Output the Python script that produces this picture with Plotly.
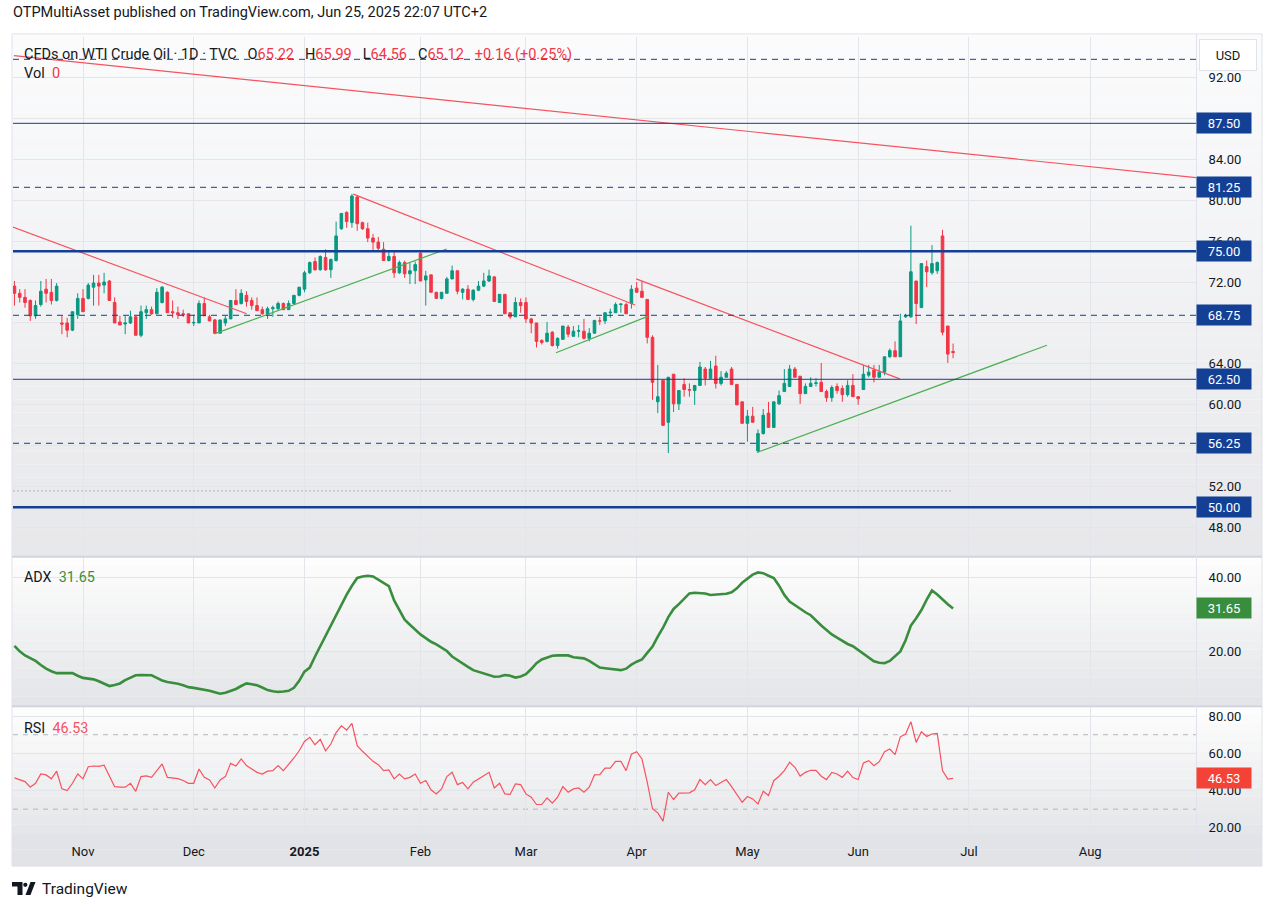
import plotly.graph_objects as go
import pandas as pd

W, H = 1274, 913

# ---------------- data ----------------
first_day = "2024-10-15"
holidays = ["2024-12-25", "2025-01-01", "2025-04-18", "2025-05-26"]

open_ = [71.6, 70.9, 70.5, 70.2, 68.7, 69.8, 71.3, 71.0, 70.2, 68.0,
         68.0, 67.3, 68.8, 70.4, 70.4, 71.5, 71.9, 71.7, 72.1, 70.0,
         68.1, 67.9, 68.0, 68.6, 66.8, 69.0, 69.3, 68.9, 70.0, 71.0,
         69.1, 69.0, 68.9, 68.9, 68.0, 68.0, 69.9, 68.6, 68.3, 67.0,
         68.0, 68.4, 70.2, 69.9, 70.7, 70.2, 69.7, 69.3, 68.9, 69.4,
         69.4, 69.9, 69.3, 69.9, 70.7, 71.3, 72.9, 74.0, 73.2, 74.4,
         73.2, 74.1, 77.2, 78.8, 77.8, 80.3, 77.8, 77.2, 76.3, 75.9,
         75.2, 74.1, 74.5, 72.9, 73.9, 72.8, 73.1, 74.8, 72.2, 72.7,
         71.0, 70.4, 70.9, 72.3, 73.1, 71.0, 71.3, 70.3, 71.2, 71.6,
         72.1, 72.5, 70.0, 70.8, 69.0, 68.6, 70.0, 70.0, 68.4, 68.0,
         66.3, 66.2, 67.1, 65.8, 66.4, 67.6, 66.7, 67.2, 67.2, 66.5,
         67.0, 68.2, 68.2, 69.0, 69.0, 69.8, 69.8, 69.9, 71.4, 71.1,
         70.3, 66.6, 60.3, 62.4, 58.3, 63.0, 60.1, 62.0, 61.5, 61.4,
         61.9, 63.5, 62.6, 63.8, 62.1, 62.7, 63.5, 62.0, 60.3, 58.2,
         58.9, 55.5, 57.2, 59.2, 57.8, 60.1, 61.3, 61.8, 63.5, 62.8,
         61.1, 61.8, 62.1, 62.2, 61.3, 60.7, 61.8, 61.6, 61.0, 61.9,
         60.8, 61.5, 62.9, 63.4, 62.7, 63.2, 64.7, 65.3, 64.7, 68.6,
         68.6, 72.1, 69.5, 73.5, 72.9, 73.1, 76.5, 67.7, 65.22]
high = [72.1, 71.3, 71.3, 70.3, 70.2, 72.1, 72.3, 72.3, 71.9, 68.7,
        68.5, 69.1, 70.9, 71.3, 71.9, 72.7, 72.7, 72.9, 72.2, 70.5,
        68.7, 68.7, 69.2, 68.7, 69.7, 69.7, 69.6, 71.4, 71.6, 71.1,
        70.2, 69.6, 69.3, 68.9, 68.8, 70.2, 70.5, 68.8, 68.4, 68.3,
        68.7, 70.2, 71.3, 71.3, 71.1, 70.5, 70.5, 69.6, 69.6, 69.7,
        70.1, 70.0, 70.2, 70.7, 71.5, 73.1, 74.0, 74.4, 74.6, 75.2,
        74.3, 77.9, 78.7, 78.9, 80.6, 80.5, 77.9, 77.8, 76.7, 76.4,
        75.9, 75.0, 75.0, 74.1, 74.1, 73.9, 74.0, 75.1, 73.1, 72.7,
        71.0, 71.0, 72.5, 73.6, 73.1, 71.4, 71.7, 71.3, 72.1, 72.9,
        73.2, 72.6, 70.8, 70.8, 69.0, 70.5, 70.4, 70.5, 68.5, 68.0,
        66.4, 68.1, 67.2, 66.6, 67.7, 67.8, 67.7, 67.8, 68.4, 67.5,
        68.3, 68.6, 69.0, 69.4, 70.0, 69.9, 70.0, 71.7, 72.0, 72.1,
        70.3, 66.8, 63.9, 62.4, 62.7, 63.0, 61.4, 62.6, 62.1, 61.9,
        64.2, 63.7, 64.3, 64.8, 63.3, 63.3, 63.7, 62.0, 60.3, 59.5,
        59.8, 57.6, 59.6, 60.3, 60.3, 61.4, 63.5, 63.9, 63.7, 62.8,
        62.1, 62.7, 62.6, 64.1, 61.5, 61.9, 62.1, 61.9, 62.4, 63.0,
        60.8, 63.9, 63.9, 63.9, 63.9, 64.7, 65.5, 66.2, 68.9, 68.9,
        77.5, 72.1, 73.8, 74.1, 75.6, 74.0, 77.1, 67.7, 65.99]
low = [69.7, 70.0, 69.5, 68.2, 68.4, 69.6, 70.0, 69.8, 70.1, 66.9,
       66.6, 67.2, 68.4, 69.1, 70.3, 69.7, 69.7, 70.9, 70.2, 68.0,
       67.8, 66.9, 67.9, 66.8, 66.6, 68.4, 68.8, 68.9, 69.9, 69.0,
       68.5, 68.4, 68.6, 68.0, 67.7, 68.0, 68.7, 68.2, 66.9, 67.0,
       67.7, 68.4, 69.8, 69.8, 69.6, 69.3, 69.2, 68.8, 68.4, 68.6,
       69.2, 69.3, 69.3, 69.8, 70.6, 71.0, 72.8, 73.1, 73.1, 73.1,
       72.4, 74.0, 77.1, 77.3, 77.3, 77.0, 77.1, 75.9, 75.1, 75.1,
       74.1, 74.0, 72.4, 72.8, 72.4, 71.8, 71.8, 72.1, 69.7, 71.0,
       70.4, 70.3, 70.9, 72.3, 70.8, 70.3, 70.3, 70.1, 71.1, 71.5,
       72.0, 70.1, 70.0, 68.9, 68.4, 68.6, 69.0, 68.0, 67.0, 65.6,
       65.9, 66.1, 65.7, 65.5, 66.4, 66.6, 66.7, 66.6, 66.4, 66.2,
       67.0, 67.8, 67.9, 68.5, 69.0, 69.0, 68.9, 69.4, 71.0, 70.5,
       66.0, 60.5, 59.2, 58.0, 55.3, 59.3, 59.5, 60.8, 60.8, 60.0,
       61.9, 61.9, 62.6, 61.6, 61.9, 62.7, 62.0, 60.0, 58.2, 56.4,
       58.3, 55.3, 57.1, 57.8, 57.8, 60.0, 61.3, 61.8, 62.7, 60.1,
       61.1, 61.8, 61.8, 61.3, 60.3, 60.3, 61.1, 60.3, 60.8, 60.8,
       60.0, 61.5, 62.7, 62.2, 62.7, 62.9, 64.6, 64.7, 64.7, 68.5,
       68.5, 67.9, 69.5, 71.5, 72.7, 72.8, 66.8, 64.1, 64.56]
close = [70.9, 70.5, 70.0, 68.7, 69.7, 71.1, 70.9, 70.2, 71.6, 67.9,
         67.3, 69.1, 70.4, 69.1, 71.7, 71.9, 71.6, 72.0, 70.2, 68.0,
         67.8, 68.0, 68.6, 66.8, 69.1, 69.3, 68.9, 71.0, 71.5, 69.0,
         69.0, 68.8, 68.8, 68.0, 68.05, 69.9, 68.7, 68.2, 67.0, 68.3,
         68.4, 70.2, 69.8, 70.9, 70.1, 69.7, 69.2, 68.9, 69.4, 69.5,
         69.9, 69.3, 69.9, 70.7, 71.5, 72.9, 73.9, 73.2, 74.5, 73.2,
         74.2, 76.5, 78.7, 77.9, 80.4, 77.7, 77.2, 76.3, 75.9, 75.3,
         74.1, 74.5, 72.9, 73.9, 72.8, 73.1, 73.7, 72.1, 72.6, 71.0,
         70.4, 71.0, 72.3, 73.1, 71.1, 71.3, 70.3, 71.2, 71.6, 72.1,
         72.6, 70.1, 70.8, 68.9, 68.6, 70.0, 69.7, 68.4, 68.0, 66.2,
         66.1, 67.0, 65.8, 66.5, 67.7, 66.9, 67.2, 67.25, 66.5, 67.0,
         68.25, 68.2, 69.0, 69.05, 69.8, 69.85, 68.9, 71.3, 71.0, 70.5,
         66.6, 62.2, 60.8, 58.0, 62.7, 60.1, 61.4, 61.5, 61.45, 61.9,
         63.7, 62.6, 63.5, 62.1, 62.7, 63.1, 62.0, 60.0, 58.2, 58.9,
         58.3, 57.2, 59.0, 57.8, 60.3, 60.9, 62.1, 63.5, 62.7, 61.1,
         61.8, 62.1, 62.15, 61.3, 60.7, 61.7, 61.4, 61.0, 61.9, 60.8,
         60.6, 63.0, 63.2, 62.7, 63.2, 64.7, 65.3, 64.7, 68.2, 68.7,
         73.0, 69.9, 73.8, 73.0, 73.8, 73.9, 67.1, 64.96, 65.12]

adx = [21.5, 20.0, 18.9, 18.2, 17.4, 16.3, 15.3, 14.6, 14.1, 14.1,
       14.2, 14.1, 13.4, 12.8, 12.6, 12.4, 11.9, 11.2, 10.6, 10.9,
       11.3, 12.2, 12.9, 13.5, 13.6, 13.6, 13.5, 12.8, 12.1, 11.7,
       11.5, 11.2, 10.8, 10.3, 10.1, 9.9, 9.7, 9.3, 8.9, 8.5,
       8.8, 9.3, 9.8, 10.6, 11.3, 11.1, 10.8, 10.2, 9.5, 9.2,
       9.0, 9.1, 9.3, 10.1, 12.0, 14.5, 15.6, 18.6, 21.4, 24.0,
       27.0, 29.5, 32.7, 35.4, 37.8, 39.9, 40.3, 40.5, 40.3, 39.5,
       38.5, 37.7, 33.8, 31.3, 28.6, 27.2, 25.8, 24.6, 23.6, 22.6,
       21.9, 21.0, 20.1, 18.6, 17.6, 16.7, 15.8, 14.9, 14.4, 14.05,
       13.6, 13.1, 13.2, 13.6, 13.4, 12.9, 13.2, 13.8, 15.2, 16.8,
       17.8, 18.4, 18.8, 18.9, 18.9, 18.9, 18.4, 18.3, 18.1, 17.4,
       16.5, 15.6, 15.4, 15.2, 15.0, 14.9, 15.3, 16.4, 17.2, 17.8,
       19.6, 21.3, 24.0, 26.4, 29.3, 31.5, 32.8, 34.4, 35.7, 35.9,
       35.9, 35.7, 35.3, 35.4, 35.5, 35.6, 36.0, 37.1, 38.6, 39.6,
       40.8, 41.4, 41.2, 40.5, 39.9, 37.8, 35.3, 33.5, 32.5, 31.7,
       30.6, 29.8, 28.3, 27.0, 25.8, 24.6, 23.7, 22.8, 22.0, 21.4,
       20.4, 19.4, 18.4, 17.3, 16.9, 16.8, 17.4, 18.6, 20.0, 23.0,
       27.0, 29.0, 31.2, 34.0, 36.5, 35.4, 34.0, 32.8, 31.65]

rsi = [46.8, 45.7, 44.8, 41.8, 43.9, 48.9, 48.4, 46.3, 50.4, 40.9,
       40.0, 43.9, 48.9, 46.3, 52.8, 53.2, 53.0, 53.6, 48.0, 42.1,
       41.8, 41.8, 43.9, 39.6, 47.5, 47.9, 47.1, 50.7, 54.3, 47.1,
       46.8, 46.4, 45.4, 43.9, 43.9, 51.6, 47.1, 45.7, 41.4, 45.7,
       47.5, 54.6, 53.2, 57.0, 53.4, 51.8, 49.8, 48.9, 50.4, 50.7,
       53.4, 50.7, 53.9, 57.5, 61.4, 66.4, 68.6, 64.6, 67.5, 61.4,
       65.0, 71.2, 74.8, 72.5, 76.1, 64.1, 61.1, 58.2, 55.7, 53.9,
       50.7, 51.1, 46.3, 48.9, 46.3, 47.1, 48.9, 43.9, 45.4, 40.4,
       38.2, 40.9, 47.5, 49.8, 43.2, 44.3, 40.9, 44.5, 46.1, 48.0,
       49.8, 41.4, 43.9, 38.2, 37.9, 43.6, 43.2, 38.2, 36.4, 32.5,
       32.5, 36.1, 33.2, 36.4, 42.1, 39.1, 40.9, 41.4, 39.1, 41.8,
       48.4, 48.6, 52.1, 52.1, 55.7, 55.7, 50.7, 59.5, 60.9, 57.0,
       44.5, 30.2, 28.0, 23.6, 39.1, 35.2, 38.6, 38.8, 38.8, 40.4,
       45.9, 43.2, 45.9, 42.7, 44.5, 45.9, 42.1, 38.2, 33.7, 36.8,
       35.5, 32.8, 39.6, 37.3, 45.3, 47.7, 50.7, 55.2, 52.5, 47.8,
       49.8, 50.9, 50.9, 47.7, 45.9, 49.8, 48.9, 47.1, 50.4, 47.0,
       45.9, 54.8, 56.1, 53.4, 55.5, 60.9, 62.3, 59.3, 68.9, 70.4,
       77.0, 65.9, 71.6, 69.1, 70.4, 70.7, 50.7, 46.2, 46.53]

month_labels = ["Nov", "Dec", "2025", "Feb", "Mar", "Apr", "May", "Jun", "Jul", "Aug"]
month_starts = ["2024-11", "2024-12", "2025-01", "2025-02", "2025-03",
                "2025-04", "2025-05", "2025-06", "2025-07", "2025-08"]

price_ticks = [48, 52, 56, 60, 64, 68, 72, 76, 80, 84, 88, 92]
price_ticks_hidden = [56, 68, 88]   # labels covered by level boxes in the reference
adx_ticks = [20, 40]
rsi_ticks = [20, 40, 60, 80]
rsi_bands = [70, 30]

lvl_thick = [75.0, 50.0]
lvl_thin = [87.5, 62.5]
lvl_dash = [93.75, 81.25, 68.75, 56.25]
lvl_boxes = [87.5, 81.25, 75.0, 68.75, 62.5, 56.25, 50.0]
dotted_level = 51.6

# trend lines: (bar index, price) anchor pairs
red_lines = [
    [(-0.1, 94.11), (224.1, 82.2)],
    [(-0.3, 77.36), (44.05, 68.9)],
    [(64.26, 80.58), (117.7, 69.75)],
    [(117.9, 72.31), (167.9, 62.54)],
]
green_lines = [
    [(38.03, 66.96), (81.98, 75.23)],
    [(102.7, 65.09), (120.1, 68.64)],
    [(140.9, 55.37), (195.8, 65.82)],
]

# ---------------- bar index / dates ----------------
all_days = pd.bdate_range(first_day, "2025-09-30")
all_days = all_days[~all_days.isin(pd.to_datetime(holidays))]
n = len(close)
xs = list(range(n))
day_month = all_days.strftime("%Y-%m")
tick_pos = [int((day_month == m).argmax()) for m in month_starts]
tick_text = ["<b>%s</b>" % t if t.isdigit() else t for t in month_labels]

# ---------------- style ----------------
FONT = "Roboto, 'Liberation Sans', sans-serif"
TXT = "#131722"
UP = "#089981"
DN = "#f23645"
NAVY = "#133f94"
GRID = "#e3e5ea"
DY = 1.5  # vertical fine offset in px


def py(px):
    return 1 - px / H


def pxx(px):
    return px / W


X0, X1 = 13, 1196
xdom = [pxx(X0), pxx(X1)]
xrange_ = [-0.275, 224.07]

fig = go.Figure()

fig.add_trace(go.Candlestick(
    x=xs, open=open_, high=high, low=low, close=close,
    increasing=dict(line=dict(color=UP, width=1), fillcolor=UP),
    decreasing=dict(line=dict(color=DN, width=1), fillcolor=DN),
    whiskerwidth=0, xaxis="x", yaxis="y", showlegend=False, hoverinfo="skip"))

fig.add_trace(go.Scatter(x=[xrange_[0], n - 1], y=[dotted_level, dotted_level], mode="lines",
                         line=dict(color="#b2b5be", width=1, dash="2px,2px"),
                         xaxis="x", yaxis="y", showlegend=False, hoverinfo="skip"))

for seg in red_lines:
    fig.add_trace(go.Scatter(x=[p[0] for p in seg], y=[p[1] for p in seg], mode="lines",
                             line=dict(color="#f7525f", width=1.2),
                             xaxis="x", yaxis="y", showlegend=False, hoverinfo="skip"))
for seg in green_lines:
    fig.add_trace(go.Scatter(x=[p[0] for p in seg], y=[p[1] for p in seg], mode="lines",
                             line=dict(color="#4caf50", width=1.2),
                             xaxis="x", yaxis="y", showlegend=False, hoverinfo="skip"))

fig.add_trace(go.Scatter(x=xs, y=adx, mode="lines", line=dict(color="#388e3c", width=2.6),
                         xaxis="x2", yaxis="y2", showlegend=False, hoverinfo="skip"))
fig.add_trace(go.Scatter(x=xs, y=rsi, mode="lines", line=dict(color="#f7525f", width=1.2),
                         xaxis="x3", yaxis="y3", showlegend=False, hoverinfo="skip"))

shapes = []


def gradient(y0, y1, c0, c1, steps, x0=12, x1=1262):
    for i in range(steps):
        t = i / (steps - 1)
        c = tuple(int(round(c0[k] + (c1[k] - c0[k]) * t)) for k in range(3))
        ya = y0 + (y1 - y0) * i / steps
        yb = y0 + (y1 - y0) * (i + 1) / steps
        shapes.append(dict(type="rect", xref="paper", yref="paper", layer="below",
                           x0=pxx(x0), x1=pxx(x1), y0=py(yb), y1=py(ya),
                           fillcolor="rgb(%d,%d,%d)" % c, line=dict(width=0)))


gradient(34, 558, (251, 251, 252), (231, 232, 235), 40)
gradient(558, 708, (253, 253, 253), (228, 229, 232), 16)
gradient(708, 836, (253, 253, 253), (229, 230, 233), 14)
gradient(836, 869, (226, 227, 230), (226, 227, 230), 2)

# frame & separators
shapes.append(dict(type="rect", xref="paper", yref="paper", x0=pxx(12), x1=pxx(1262),
                   y0=py(869), y1=py(34), line=dict(color="#e0e3eb", width=1), layer="above"))
for yy in (558.5, 708.5):
    shapes.append(dict(type="line", xref="paper", yref="paper", x0=pxx(12), x1=pxx(1262),
                       y0=py(yy), y1=py(yy), line=dict(color="#d1d4dc", width=2), layer="above"))
shapes.append(dict(type="line", xref="paper", yref="paper", x0=pxx(12), x1=pxx(1262),
                   y0=py(835.5), y1=py(835.5), line=dict(color="#e0e3eb", width=1), layer="above"))
shapes.append(dict(type="line", xref="paper", yref="paper", x0=pxx(1196.5), x1=pxx(1196.5),
                   y0=py(869), y1=py(34), line=dict(color="#e0e3eb", width=1), layer="above"))

# level lines
for v in lvl_thick:
    shapes.append(dict(type="line", xref="paper", yref="y", x0=xdom[0], x1=xdom[1], y0=v, y1=v,
                       line=dict(color=NAVY, width=2.6), layer="above"))
for v in lvl_thin:
    shapes.append(dict(type="line", xref="paper", yref="y", x0=xdom[0], x1=xdom[1], y0=v, y1=v,
                       line=dict(color=NAVY, width=1), layer="above"))
for v in lvl_dash:
    shapes.append(dict(type="line", xref="paper", yref="y", x0=xdom[0], x1=xdom[1], y0=v, y1=v,
                       line=dict(color=NAVY, width=1, dash="6px,5px"), layer="above"))
for v in rsi_bands:
    shapes.append(dict(type="line", xref="paper", yref="y3", x0=xdom[0], x1=xdom[1], y0=v, y1=v,
                       line=dict(color="#b2b5be", width=1, dash="5px,5px"), layer="below"))

# TradingView logo
shapes.append(dict(type="path", xref="paper", yref="paper",
                   path="M %f %f L %f %f L %f %f L %f %f L %f %f L %f %f Z" % (
                       pxx(12), py(885), pxx(22.5), py(885), pxx(22.5), py(898), pxx(17.5), py(898),
                       pxx(17.5), py(889.5), pxx(12), py(889.5)),
                   fillcolor=TXT, line=dict(width=0)))
shapes.append(dict(type="circle", xref="paper", yref="paper", x0=pxx(23.2), x1=pxx(27.4),
                   y0=py(889.8), y1=py(885.6), fillcolor=TXT, line=dict(width=0)))
shapes.append(dict(type="path", xref="paper", yref="paper",
                   path="M %f %f L %f %f L %f %f L %f %f Z" % (
                       pxx(25.5), py(898), pxx(30.5), py(885), pxx(35.5), py(885), pxx(30.5), py(898)),
                   fillcolor=TXT, line=dict(width=0)))

annotations = []


def ann(text, x, y, size=13, color=TXT, xanchor="left", **kw):
    d = dict(text=text, xref="paper", yref="paper", x=pxx(x), y=py(y), xanchor=xanchor,
             yanchor="middle", showarrow=False, font=dict(family=FONT, size=size, color=color))
    d.update(kw)
    annotations.append(d)


ann("OTPMultiAsset published on TradingView.com, Jun 25, 2025 22:07 UTC+2", 11, 13, size=14.5)
red = lambda s: '<span style="color:%s">%s</span>' % (DN, s)
ann("CFDs on WTI Crude Oil · 1D · TVC\u2002 O" + red("65.22") + "\u2002 H" + red("65.99") +
    "\u2002 L" + red("64.56") + "\u2002 C" + red("65.12") + "\u2002 " + red("+0.16 (+0.25%)"),
    22, 55, size=14.5)
ann("Vol\u2002" + red("0"), 22, 74, size=14.5)
ann('ADX\u2002<span style="color:#388e3c">31.65</span>', 22, 578.5, size=14.3)
ann('RSI\u2002<span style="color:#f7525f">46.53</span>', 22, 730, size=14.3)
ann("TradingView", 40, 892, size=15.5)

# USD button
annotations.append(dict(text="USD", xref="paper", yref="paper", x=pxx(1199), y=py(55),
                        xanchor="left", yanchor="middle", showarrow=False,
                        font=dict(family=FONT, size=13, color=TXT), bgcolor="#ffffff",
                        bordercolor="#e0e3eb", borderwidth=1, borderpad=2, width=52, height=26))

# right-axis value boxes
for v in lvl_boxes:
    annotations.append(dict(text="%.2f" % v, xref="paper", yref="y", x=pxx(1196), y=v,
                            xanchor="left", yanchor="middle", showarrow=False,
                            font=dict(family=FONT, size=13, color="#ffffff"), bgcolor=NAVY,
                            borderpad=2, width=50, height=16))
annotations.append(dict(text="%.2f" % adx[-1], xref="paper", yref="y2", x=pxx(1196), y=adx[-1],
                        xanchor="left", yanchor="middle", showarrow=False,
                        font=dict(family=FONT, size=13, color="#ffffff"), bgcolor="#388e3c",
                        borderpad=2, width=50, height=16))
annotations.append(dict(text="%.2f" % rsi[-1], xref="paper", yref="y3", x=pxx(1196), y=rsi[-1],
                        xanchor="left", yanchor="middle", showarrow=False,
                        font=dict(family=FONT, size=13, color="#ffffff"), bgcolor="#f44336",
                        borderpad=2, width=50, height=16))

common_x = dict(domain=xdom, range=xrange_, tickvals=tick_pos, ticktext=tick_text,
                showgrid=True, gridcolor=GRID, gridwidth=1, zeroline=False, showline=False,
                fixedrange=True)
common_y = dict(side="right", showgrid=True, gridcolor=GRID, gridwidth=1, zeroline=False,
                showline=False, fixedrange=True, ticks="outside", ticklen=9,
                tickcolor="rgba(0,0,0,0)",
                tickfont=dict(family=FONT, size=13, color=TXT))

price_text = ["" if v in price_ticks_hidden else "%.2f" % v for v in price_ticks]

fig.update_layout(
    width=W, height=H, margin=dict(l=0, r=0, t=0, b=0),
    paper_bgcolor="#ffffff", plot_bgcolor="rgba(0,0,0,0)",
    showlegend=False, hovermode=False,
    xaxis=dict(common_x, anchor="y", showticklabels=False, rangeslider=dict(visible=False)),
    xaxis2=dict(common_x, anchor="y2", matches="x", showticklabels=False),
    xaxis3=dict(common_x, anchor="y3", matches="x", showticklabels=True,
                ticks="outside", ticklen=7, tickcolor="rgba(0,0,0,0)",
                tickfont=dict(family=FONT, size=13, color=TXT)),
    yaxis=dict(common_y, anchor="x", domain=[py(556 + DY), py(36 + DY)], range=[45.274, 95.894],
               tickvals=price_ticks, ticktext=price_text),
    yaxis2=dict(common_y, anchor="x2", domain=[py(706 + DY), py(558 + DY)], range=[5.405, 45.405],
                tickvals=adx_ticks, ticktext=["%.2f" % v for v in adx_ticks]),
    yaxis3=dict(common_y, anchor="x3", domain=[py(834 + DY), py(708 + DY)], range=[17.321, 84.821],
                tickvals=rsi_ticks, ticktext=["%.2f" % v for v in rsi_ticks]),
    shapes=shapes, annotations=annotations,
)

fig.write_html("out.html")
